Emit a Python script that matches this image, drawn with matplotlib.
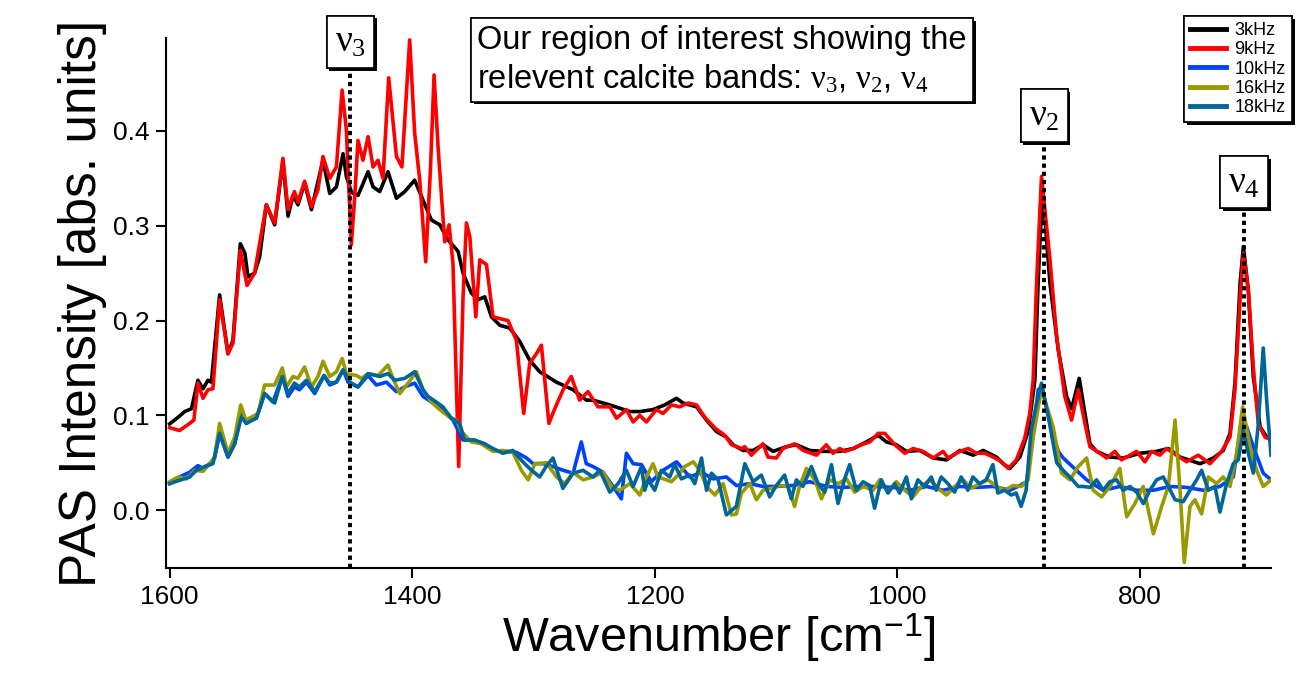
import matplotlib
matplotlib.use("Agg")
import matplotlib.pyplot as plt
import matplotlib.patheffects as pe

plt.rcParams['font.family'] = ['Liberation Sans', 'DejaVu Sans']
# Times-like upright greek for the band labels, sans for the exponent
plt.rcParams['mathtext.fontset'] = 'custom'
plt.rcParams['mathtext.rm'] = 'Liberation Serif'
plt.rcParams['mathtext.it'] = 'Liberation Serif'
plt.rcParams['mathtext.bf'] = 'Liberation Serif:bold'
plt.rcParams['mathtext.sf'] = 'Liberation Sans'

# ---- data (wavenumber [cm-1], PAS intensity) ----
wn_3k = [1600, 1592, 1587.6, 1582, 1576.7, 1572.5, 1568.4, 1565.6, 1558.8, 1551.9, 1547.8, 1541.7, 1538,
         1535.4, 1530, 1525.8, 1520.3, 1513.4, 1506.6, 1502.4, 1498.3, 1494.2, 1488.7, 1483.1, 1473.6, 1468,
         1462.5, 1457, 1454.3, 1450, 1444.7, 1436.4, 1432.3, 1426.8, 1420, 1413, 1406.2, 1398, 1391.1,
         1384.2, 1377.3, 1370.5, 1362.2, 1358.1, 1351.3, 1345.8, 1340.2, 1334.7, 1327.8, 1319.6, 1311.4,
         1303.1, 1294.9, 1281.1, 1267.4, 1256.4, 1250.9, 1237.1, 1220.6, 1212.4, 1201.7, 1191.8, 1182.1,
         1176.7, 1165.6, 1157.4, 1149.2, 1141, 1135.5, 1127.3, 1119, 1110.8, 1102.5, 1091.5, 1083.3, 1072.3,
         1061.3, 1047.5, 1036.5, 1025.5, 1015.9, 1009.1, 1000.9, 992.6, 981.5, 970.5, 959.5, 948.5, 937.5,
         929.3, 918.3, 912.8, 907.3, 899, 892.1, 886.7, 884, 880.4, 874.2, 867.4, 860.5, 856.4, 850.1, 845.4,
         841.3, 835.8, 824.8, 813.8, 800, 786.3, 776.7, 767, 750.5, 739.5, 731.3, 725.8, 721.7, 717.5, 714.8,
         710.7, 706.6, 701, 695.5, 692]
pas_3k = [0.091, 0.099, 0.104, 0.107, 0.137, 0.128, 0.137, 0.135, 0.227, 0.165, 0.179, 0.281, 0.271,
          0.246, 0.25, 0.267, 0.322, 0.301, 0.368, 0.31, 0.332, 0.322, 0.345, 0.317, 0.369, 0.334,
          0.341, 0.376, 0.352, 0.335, 0.332, 0.357, 0.341, 0.336, 0.357, 0.329, 0.336, 0.348, 0.327,
          0.306, 0.301, 0.285, 0.273, 0.25, 0.229, 0.222, 0.225, 0.204, 0.195, 0.192, 0.178,
          0.158, 0.146, 0.135, 0.127, 0.116, 0.116, 0.111, 0.104, 0.104, 0.106, 0.111, 0.118,
          0.113, 0.109, 0.095, 0.083, 0.077, 0.069, 0.063, 0.063, 0.069, 0.062, 0.067, 0.069, 0.063,
          0.062, 0.062, 0.065, 0.072, 0.079, 0.072, 0.069, 0.062, 0.063, 0.055, 0.053, 0.063, 0.058,
          0.063, 0.056, 0.049, 0.044, 0.056, 0.084, 0.137, 0.24, 0.34, 0.239, 0.169, 0.12, 0.107, 0.139, 0.102,
          0.07, 0.062, 0.056, 0.055, 0.06, 0.062, 0.065, 0.056, 0.049, 0.055, 0.063, 0.081, 0.134, 0.239, 0.278,
          0.232, 0.141, 0.088, 0.077, 0.076]

wn_9k = [1600, 1591.8, 1583.5, 1580, 1576.7, 1572.5, 1568.4, 1564.3, 1558.8, 1551.9, 1547.8, 1541.7, 1536.2,
         1530, 1520.3, 1513.4, 1506.6, 1502.4, 1497.1, 1494.2, 1488.7, 1483.1, 1477.7, 1473.6, 1468, 1462.5,
         1457.8, 1454.3, 1450.2, 1447.4, 1444.7, 1440.6, 1436.4, 1432.3, 1428.2, 1424.1, 1419.4, 1413, 1408.5,
         1402.1, 1398, 1393.8, 1388.9, 1385, 1382, 1378.7, 1373.2, 1369.6, 1366.4, 1361.7, 1358.1, 1355.3,
         1352.5, 1347.6, 1344.3, 1338.8, 1333.4, 1327.8, 1321, 1314.1, 1308.1, 1303.1, 1297.6, 1293.5, 1287.3,
         1282.5, 1275.6, 1268.9, 1262, 1255.1, 1246.9, 1237.1, 1231.6, 1223.4, 1217.9, 1212.4, 1206.9, 1198.8,
         1193.2, 1186.4, 1179.4, 1172.6, 1165.6, 1158.8, 1149.9, 1142.3, 1136.8, 1128.6, 1125.8, 1120.4, 1110.8,
         1106.7, 1099.8, 1094.4, 1084.8, 1077.7, 1066.7, 1058.6, 1053, 1047.5, 1043.3, 1036.5, 1029.7, 1022.7,
         1015.9, 1010.4, 1002.1, 993.9, 987.1, 978.8, 970.5, 962.3, 958.2, 948.5, 941.6, 934.7, 927.9, 921,
         914.2, 908.7, 901.9, 895, 890.9, 888.1, 885.3, 881.2, 874.2, 868.7, 862, 856.4, 850.9, 845.4, 841.3,
         833, 827.5, 820.7, 815.2, 802.8, 796, 790.4, 783.6, 778.1, 769.9, 761.6, 752, 742.3, 732.7, 725.8,
         721.7, 717.5, 714.8, 710.7, 706.6, 702.5, 697, 692]
pas_9k = [0.087, 0.084, 0.0915, 0.095, 0.134, 0.118, 0.127, 0.128, 0.222, 0.165, 0.176, 0.274, 0.237,
          0.25, 0.322, 0.303, 0.371, 0.317, 0.336, 0.325, 0.347, 0.32, 0.338, 0.373, 0.35, 0.362,
          0.443, 0.401, 0.28, 0.331, 0.39, 0.369, 0.394, 0.362, 0.369, 0.35, 0.456, 0.373, 0.362,
          0.496, 0.398, 0.348, 0.262, 0.359, 0.459, 0.383, 0.283, 0.301, 0.26, 0.046, 0.225, 0.303,
          0.288, 0.204, 0.264, 0.259, 0.204, 0.202, 0.2, 0.179, 0.102, 0.155, 0.165, 0.174, 0.0915,
          0.107, 0.127, 0.141, 0.116, 0.125, 0.109, 0.109, 0.097, 0.106, 0.093, 0.1, 0.093, 0.106,
          0.102, 0.111, 0.109, 0.113, 0.111, 0.098, 0.086, 0.079, 0.069, 0.065, 0.067, 0.058, 0.07,
          0.056, 0.055, 0.065, 0.07, 0.063, 0.058, 0.069, 0.06, 0.065, 0.062, 0.065, 0.069, 0.072,
          0.081, 0.081, 0.069, 0.06, 0.065, 0.062, 0.055, 0.062, 0.055, 0.062, 0.065, 0.06, 0.06, 0.056,
          0.051, 0.044, 0.053, 0.076, 0.102, 0.137, 0.239, 0.352, 0.264, 0.183, 0.12, 0.095, 0.127, 0.0915, 0.067,
          0.06, 0.055, 0.062, 0.053, 0.062, 0.051, 0.062, 0.058, 0.065, 0.058, 0.051, 0.058, 0.049, 0.062, 0.077,
          0.127, 0.222, 0.271, 0.232, 0.151, 0.0915, 0.077, 0.074]

wn_10k = [1600, 1591.8, 1583.5, 1576.7, 1572.5, 1567, 1562.9, 1558.8, 1551.9, 1546.4, 1540.9, 1536.8, 1532.6,
          1528.5, 1521.7, 1514.8, 1507.1, 1502.4, 1497.1, 1493, 1487.3, 1480.4, 1472.7, 1468, 1462.5, 1457,
          1452.9, 1444.7, 1436.4, 1429.6, 1421.3, 1413.1, 1406.2, 1398, 1391.1, 1382.9, 1374.7, 1366.4, 1358.1,
          1349.9, 1341.6, 1333.4, 1322.3, 1314.1, 1305.8, 1300.3, 1292.1, 1283.9, 1275.6, 1267.4, 1260.6,
          1256.5, 1251, 1242.7, 1234.4, 1227.6, 1223.4, 1217.9, 1211, 1202.9, 1197.4, 1193.2, 1182.1, 1171.1,
          1161.5, 1152, 1141, 1132.8, 1121.8, 1110.8, 1099.8, 1086, 1072.3, 1058.6, 1044.8, 1031, 1017.3,
          1003.5, 989.8, 976, 962.3, 948.5, 934.7, 921, 907.3, 899, 893.5, 889.4, 883.9, 881, 874.2, 867.4,
          863.3, 844, 830.3, 816.6, 802.8, 789, 775.3, 761.6, 747.8, 734.1, 723.1, 716.2, 712.1, 706.6,
          698.4, 692]
pas_10k = [0.028, 0.035, 0.04, 0.047, 0.044, 0.049, 0.055, 0.081, 0.056, 0.07, 0.102, 0.0915, 0.095,
           0.097, 0.123, 0.114, 0.141, 0.12, 0.13, 0.127, 0.135, 0.123, 0.142, 0.132, 0.135, 0.148,
           0.135, 0.13, 0.142, 0.132, 0.135, 0.125, 0.13, 0.134, 0.12, 0.113, 0.106, 0.095, 0.074,
           0.074, 0.07, 0.063, 0.062, 0.061, 0.055, 0.049, 0.049, 0.046, 0.042, 0.039, 0.072,
           0.049, 0.046, 0.04, 0.025, 0.012, 0.06, 0.049, 0.048, 0.03, 0.037, 0.042, 0.051, 0.035,
           0.04, 0.033, 0.035, 0.026, 0.028, 0.025, 0.025, 0.026, 0.03, 0.025, 0.024, 0.025, 0.025,
           0.024, 0.021, 0.025, 0.021, 0.025, 0.024, 0.025, 0.021, 0.026, 0.03, 0.067, 0.127, 0.13, 0.0915, 0.062,
           0.055, 0.032, 0.021, 0.025, 0.021, 0.021, 0.025, 0.024, 0.021, 0.025, 0.035, 0.095, 0.088, 0.067,
           0.039, 0.032]

wn_16k = [1600, 1593, 1586, 1579.4, 1572.5, 1567, 1562.9, 1558.8, 1551.9, 1546.4, 1541.4, 1537.3, 1531.2,
          1527.1, 1521.7, 1513.4, 1507.1, 1503.8, 1498.3, 1494.2, 1488.7, 1483.1, 1477.7, 1473.6, 1468, 1462.5,
          1457.8, 1454.3, 1446, 1441.9, 1436.4, 1428.2, 1420, 1415.9, 1410.3, 1403.4, 1396.6, 1391.1, 1384.2,
          1377.3, 1369.1, 1363.6, 1359.5, 1351.3, 1343.1, 1333.4, 1325.2, 1317, 1310, 1304.4, 1298.9, 1289.3,
          1281.1, 1274.2, 1267.4, 1259.1, 1250.9, 1242.7, 1235.8, 1228.9, 1220.6, 1212.4, 1206.9, 1201.5,
          1197.4, 1190.5, 1186.4, 1180.8, 1175.3, 1168.3, 1162.9, 1157.4, 1150.5, 1143.7, 1136.8, 1132.7,
          1128.6, 1121.7, 1116.2, 1110.8, 1103.9, 1097.1, 1090.2, 1084.8, 1080.7, 1075, 1068.1, 1062.6, 1055.8,
          1048.9, 1042, 1035.2, 1028.3, 1020.1, 1014.6, 1007.7, 1000.9, 994, 987.1, 980.2, 973.4, 966.5, 959.6,
          952.7, 945.9, 939, 932.2, 925.3, 918.4, 911.5, 904.6, 897.7, 892.2, 888.1, 881.2, 877, 871.6, 864.7,
          857.8, 850.9, 844, 838.6, 831.7, 824.8, 816.6, 811, 804.2, 797.3, 789, 782.1, 776.6, 771.1, 767,
          763.5, 758.8, 754.7, 749.2, 743.7, 736.9, 731.4, 725.8, 720.3, 715.4, 709.3, 703.8, 698.4, 692]
pas_16k = [0.03, 0.035, 0.033, 0.042, 0.041, 0.049, 0.056, 0.0915, 0.06, 0.077, 0.111, 0.095, 0.099,
           0.102, 0.132, 0.132, 0.15, 0.13, 0.141, 0.139, 0.151, 0.13, 0.141, 0.157, 0.141, 0.146,
           0.16, 0.144, 0.142, 0.139, 0.144, 0.142, 0.153, 0.139, 0.123, 0.134, 0.146, 0.127, 0.114,
           0.106, 0.098, 0.095, 0.083, 0.072, 0.07, 0.062, 0.063, 0.061, 0.042, 0.032, 0.049, 0.05,
           0.035, 0.028, 0.04, 0.032, 0.035, 0.04, 0.025, 0.021, 0.028, 0.016, 0.035, 0.049,
           0.035, 0.032, 0.03, 0.037, 0.046, 0.051, 0.042, 0.025, 0.016, 0.028, -0.005, -0.004,
           0.018, 0.028, 0.011, 0.021, 0.023, 0.026, 0.025, 0.004, 0.025, 0.044, 0.032, 0.012, 0.032,
           0.028, 0.033, 0.019, 0.025, 0.021, 0.032, 0.019, 0.03, 0.021, 0.014, 0.025, 0.032, 0.023, 0.016,
           0.025, 0.032, 0.023, 0.028, 0.032, 0.025, 0.021, 0.026, 0.025, 0.032, 0.077, 0.128, 0.11, 0.088, 0.039,
           0.032, 0.046, 0.055, 0.021, 0.014, 0.025, 0.044, -0.007, 0.007, 0.025, -0.025, 0.004, 0.025, 0.095, 0.021,
           -0.055, 0.004, 0.011, -0.004, 0.035, 0.028, 0.035, 0.025, 0.06, 0.109, 0.067, 0.042, 0.025, 0.032]

wn_18k = [1600, 1590.5, 1583.5, 1578, 1571.1, 1564.3, 1558.8, 1551.9, 1546.4, 1540.9, 1536.8, 1528.5, 1521.7,
          1513.4, 1507.1, 1502.4, 1497.1, 1493, 1487.3, 1480.4, 1472.7, 1468, 1462.5, 1457, 1451.5, 1444.7,
          1436.4, 1426.8, 1420, 1414.5, 1406.2, 1398, 1391.1, 1387, 1380.1, 1374.7, 1367.8, 1360.9, 1356.8,
          1348.5, 1340.2, 1333.4, 1325.2, 1317, 1308.8, 1303.3, 1295, 1289.6, 1284, 1275.8, 1267.4, 1259.1,
          1250.9, 1245.4, 1237.1, 1230.3, 1223.4, 1217.9, 1211, 1208.3, 1205.5, 1200.1, 1194.6, 1187.7, 1183.6,
          1178.1, 1171.2, 1167.1, 1161.5, 1157.4, 1153.3, 1147.8, 1141, 1132.8, 1125.8, 1119, 1112.2, 1105.3,
          1099.8, 1093, 1087.5, 1083.3, 1077.9, 1070.9, 1065.4, 1059.9, 1054.4, 1049, 1043.5, 1039.4, 1033.9,
          1028.3, 1022.9, 1018.8, 1013.3, 1007.8, 1002.3, 998.2, 992.6, 988.5, 983.1, 977.6, 972.1, 968, 963.9,
          958.4, 952.9, 947.4, 941.9, 937.8, 932.3, 926.8, 921.3, 917.2, 911.7, 906.2, 902.1, 898, 893.9, 889.8,
          885.2, 881.2, 875.5, 868.7, 863.3, 856.4, 850.9, 846.8, 841.3, 835.8, 830.3, 824.8, 819.3, 813.8,
          808.3, 802.8, 797.3, 791.8, 786.3, 780.8, 776.6, 771.1, 764.3, 758.8, 753.3, 749.2, 743.7, 738.2,
          734.1, 728.6, 723.1, 719, 714.8, 710.7, 706.6, 702.5, 698.4, 695.6, 692]
pas_18k = [0.028, 0.032, 0.035, 0.042, 0.046, 0.049, 0.081, 0.056, 0.07, 0.098, 0.0915, 0.097, 0.123,
           0.113, 0.141, 0.123, 0.134, 0.13, 0.137, 0.125, 0.142, 0.134, 0.135, 0.148, 0.135, 0.13,
           0.144, 0.141, 0.144, 0.137, 0.139, 0.146, 0.127, 0.12, 0.114, 0.109, 0.097, 0.0915, 0.074,
           0.074, 0.07, 0.065, 0.06, 0.063, 0.051, 0.044, 0.035, 0.046, 0.055, 0.023, 0.039, 0.042,
           0.035, 0.042, 0.019, 0.028, 0.042, 0.025, 0.046, 0.021, 0.032, 0.021, 0.042, 0.035, 0.048,
           0.033, 0.037, 0.028, 0.055, 0.021, 0.039, 0.032, -0.005, 0.004, 0.049, 0.03, 0.037, 0.014,
           0.026, 0.037, 0.012, 0.032, 0.025, 0.046, 0.028, 0.019, 0.048, 0.007, 0.033, 0.048, 0.021,
           0.03, 0.026, 0.002, 0.032, 0.018, 0.028, 0.018, 0.035, 0.012, 0.032, 0.025, 0.035, 0.021, 0.035,
           0.028, 0.019, 0.035, 0.021, 0.035, 0.028, 0.032, 0.048, 0.018, 0.021, 0.016, 0.018, 0.004, 0.021, 0.084,
           0.113, 0.134, 0.098, 0.05, 0.042, 0.033, 0.025, 0.025, 0.024, 0.032, 0.021, 0.03, 0.032, 0.021,
           0.025, 0.019, 0.007, 0.021, 0.032, 0.035, 0.025, 0.011, 0.009, 0.021, 0.032, 0.042, 0.021, 0.025,
           -0.002, 0.028, 0.049, 0.053, 0.084, 0.06, 0.039, 0.09, 0.171, 0.116, 0.058]

labels = ['3kHz', '9kHz', '10kHz', '16kHz', '18kHz']
colors = ['#000000', '#ff0000', '#0040ff', '#999900', '#00669a']

# calcite band positions and label heights
band_pos = [1451, 879, 714]
band_names = [r'$\nu_3$', r'$\nu_2$', r'$\nu_4$']
band_label_y = [0.494, 0.416, 0.346]
band_line_top = [0.464, 0.384, 0.315]

# ---- figure ----
fig = plt.figure(figsize=(12.96, 6.91), dpi=100)
ax = fig.add_axes([166 / 1296, 1 - 568 / 691, (1271 - 166) / 1296, (568 - 38) / 691])

series = [(wn_3k, pas_3k), (wn_9k, pas_9k), (wn_10k, pas_10k), (wn_16k, pas_16k), (wn_18k, pas_18k)]
for (x, y), lab, col in zip(series, labels, colors):
    ax.plot(x, y, color=col, lw=2.6, label=lab, solid_joinstyle='round')

ax.set_xlim(1603, 692)
ax.set_ylim(-0.061, 0.498)
ax.set_xticks([1600, 1400, 1200, 1000, 800])
ax.set_yticks([0.0, 0.1, 0.2, 0.3, 0.4])
ax.set_yticklabels(['0.0', '0.1', '0.2', '0.3', '0.4'])

for s in ['top', 'right']:
    ax.spines[s].set_visible(False)
for s in ['left', 'bottom']:
    ax.spines[s].set_linewidth(1.5)
ax.tick_params(direction='out', length=7, width=1.5, labelsize=19, pad=5)

ax.set_xlabel(r'Wavenumber [cm$^{\mathsf{-1}}$]', fontsize=35, labelpad=2)
ax.set_ylabel('PAS Intensity [abs. units]', fontsize=37, labelpad=4)

shadow = [pe.withSimplePatchShadow(offset=(2, -2), shadow_rgbFace='black', alpha=1.0), pe.Normal()]

# dotted band markers with boxed labels
for pos, name, ly, top in zip(band_pos, band_names, band_label_y, band_line_top):
    ax.plot([pos, pos], [-0.061, top], color='black', lw=2.8, linestyle=(0, (1.1, 1.0)), zorder=5)
    t = ax.text(pos, ly, name, fontsize=27, ha='center', va='center', zorder=6,
                bbox=dict(boxstyle='square,pad=0.22', fc='white', ec='black', lw=1.2))
    t.get_bbox_patch().set_path_effects(shadow)

note = fig.text(722 / 1296, 1 - 60 / 691,
                'Our region of interest showing the\n'
                r'relevent calcite bands: $\nu_3$, $\nu_2$, $\nu_4$',
                fontsize=23.5, ha='center', va='center', multialignment='left', linespacing=1.25,
                bbox=dict(boxstyle='square,pad=0.2', fc='white', ec='black', lw=1.2))
note.get_bbox_patch().set_path_effects(shadow)

leg = ax.legend(loc='upper right', bbox_to_anchor=(1292 / 1296, 1 - 16 / 691),
                bbox_transform=fig.transFigure, fontsize=13, frameon=True, fancybox=False,
                handlelength=2.0, handletextpad=0.45, labelspacing=0.12, borderpad=0.35,
                borderaxespad=0)
leg.get_frame().set_edgecolor('black')
leg.get_frame().set_linewidth(1.2)
leg.get_frame().set_alpha(1)
leg.get_frame().set_path_effects(shadow)
for h in leg.get_lines():
    h.set_linewidth(3.5)

fig.savefig('out.png', dpi=100)
